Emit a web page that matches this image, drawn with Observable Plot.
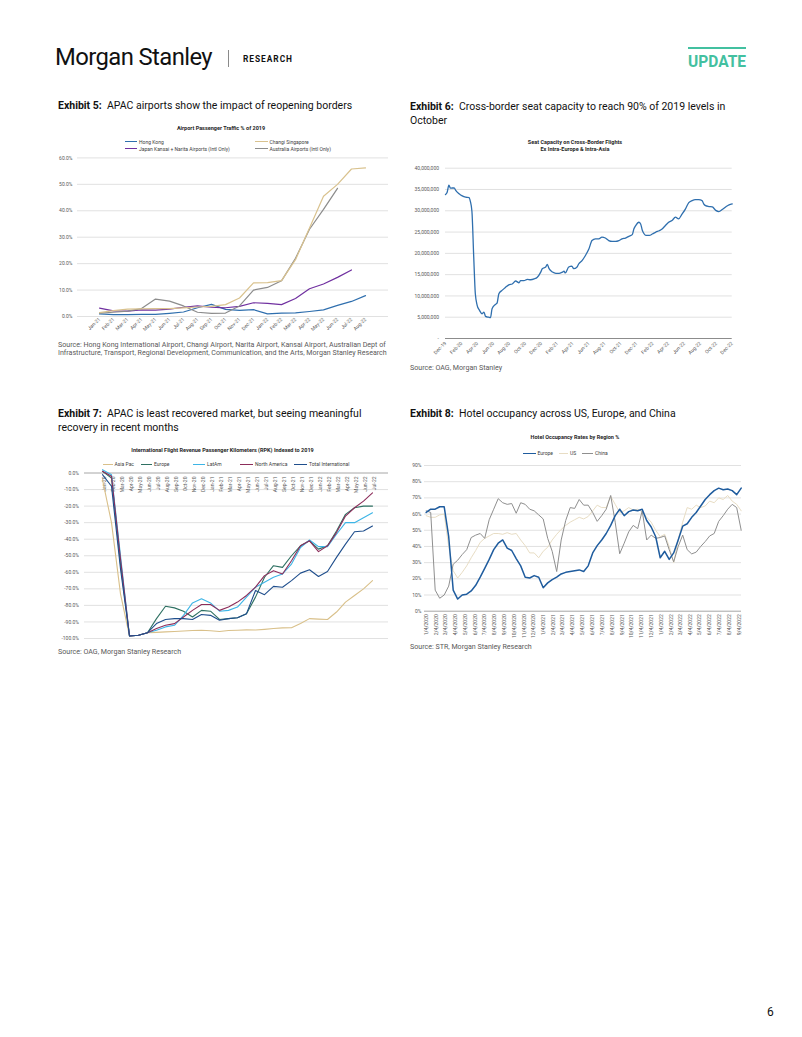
<!DOCTYPE html>
<html><head><meta charset="utf-8">
<script src="https://cdn.jsdelivr.net/npm/d3@7"></script>
<script src="https://cdn.jsdelivr.net/npm/@observablehq/plot@0.6"></script>
<style>
body{margin:0;background:#fff;width:802px;height:1037px;position:relative;overflow:hidden;font-family:Roboto,"Open Sans",sans-serif;}
.abs{position:absolute;white-space:nowrap;}
.ex{font-size:10.5px;color:#111;line-height:14px;}
.ex b{font-weight:700;}
.src{font-size:7.1px;color:#595959;line-height:8.5px;}
.ct{font-size:5.5px;font-weight:700;color:#262626;text-align:center;line-height:7.5px;transform:translateX(-50%);}
.lg{font-size:5px;color:#404040;line-height:6px;display:flex;align-items:center;}
.sw{display:inline-block;height:0;border-top:1.2px solid;margin-right:2px;}
.chart{position:absolute;}
</style></head><body>
<div id="root"></div>
<script>
// ---------------- DATA ----------------
// Exhibit 5
const months5 = ["Jan-21","Feb-21","Mar-21","Apr-21","May-21","Jun-21","Jul-21","Aug-21","Sep-21","Oct-21","Nov-21","Dec-21","Jan-22","Feb-22","Mar-22","Apr-22","May-22","Jun-22","Jul-22","Aug-22"];
const hongKong = [1.0,0.7,0.7,0.8,0.8,1.2,1.7,3.3,4.6,2.7,2.3,2.6,1.0,1.3,1.4,1.9,2.5,4.2,5.7,7.9];
const changiSingapore = [1.5,2.2,2.8,2.9,3.0,3.0,3.3,3.6,3.8,4.5,7.0,12.7,12.8,13.6,21.5,33.5,45.5,50.0,55.8,56.2];
const japanKansaiNarita = [3.2,2.1,2.0,2.5,2.4,2.8,3.5,4.0,3.5,3.3,3.8,5.2,5.0,4.5,6.8,10.5,12.3,14.8,17.6,null];
const australiaAirports = [1.3,1.6,2.0,3.0,6.6,5.8,4.0,1.6,1.2,1.3,4.0,10.0,11.0,13.5,22.0,33.0,40.5,48.5,null,null];
const names5 = ["Hong Kong","Japan Kansai + Narita Airports (Intl Only)","Australia Airports (Intl Only)","Changi Singapore"];
const colors5 = ["#2f6fae","#7030a0","#8c8c8c","#d9c28e"];
const yTicks5 = [0,10,20,30,40,50,60];

// Exhibit 6 (seats in millions)
const dates6 = ["2019-12-01","2019-12-07","2019-12-14","2019-12-20","2020-01-03","2020-01-09","2020-01-22","2020-02-03","2020-02-16","2020-02-29","2020-03-05","2020-03-11","2020-03-18","2020-03-24","2020-03-31","2020-04-09","2020-04-19","2020-04-26","2020-05-02","2020-05-14","2020-05-21","2020-05-27","2020-06-09","2020-06-15","2020-06-22","2020-07-04","2020-07-17","2020-07-30","2020-08-12","2020-08-25","2020-09-07","2020-09-13","2020-09-26","2020-10-09","2020-10-21","2020-11-04","2020-11-16","2020-11-29","2020-12-05","2020-12-18","2020-12-24","2020-12-31","2021-01-13","2021-01-26","2021-02-07","2021-02-20","2021-02-26","2021-03-03","2021-03-16","2021-03-28","2021-04-04","2021-04-17","2021-04-23","2021-05-06","2021-05-19","2021-06-01","2021-06-13","2021-06-26","2021-07-09","2021-07-21","2021-08-03","2021-08-16","2021-08-29","2021-09-11","2021-09-24","2021-10-06","2021-10-19","2021-11-01","2021-11-14","2021-11-20","2021-11-27","2021-12-09","2021-12-16","2021-12-22","2021-12-29","2022-01-05","2022-01-18","2022-01-31","2022-02-12","2022-02-25","2022-03-08","2022-03-20","2022-04-02","2022-04-15","2022-04-28","2022-05-10","2022-05-23","2022-06-05","2022-06-18","2022-07-01","2022-07-13","2022-07-26","2022-08-08","2022-08-14","2022-08-21","2022-09-03","2022-09-16","2022-09-29","2022-10-11","2022-10-24","2022-11-06","2022-11-19","2022-12-01"];
const seats6 = [33.8,34.3,36.0,35.3,35.4,34.8,34.0,33.5,33.2,33.1,32.2,29.9,19.0,10.5,7.8,6.6,5.8,6.2,5.2,5.0,4.9,7.0,8.0,8.3,10.5,11.3,12.0,12.6,12.8,13.5,13.1,13.6,13.6,13.9,13.8,14.0,14.4,15.6,16.4,16.8,17.4,16.4,15.6,15.3,15.3,15.6,15.8,15.4,16.8,17.0,16.4,16.8,17.5,18.3,19.5,21.0,23.0,23.4,23.4,23.8,23.6,23.0,22.8,22.8,23.0,23.4,23.6,24.0,24.4,25.7,26.5,27.3,26.9,25.5,24.6,24.2,24.2,24.6,25.0,25.3,25.7,26.5,27.3,27.7,28.5,28.1,29.2,30.4,31.9,32.4,32.6,32.6,32.4,31.6,31.2,31.0,30.9,30.1,29.8,30.3,30.9,31.4,31.6];
const tickLabels6 = ["Dec-19","Feb-20","Apr-20","Jun-20","Aug-20","Oct-20","Dec-20","Feb-21","Apr-21","Jun-21","Aug-21","Oct-21","Dec-21","Feb-22","Apr-22","Jun-22","Aug-22","Oct-22","Dec-22"];
const yTicks6 = [0,5e6,10e6,15e6,20e6,25e6,30e6,35e6,40e6];

// Exhibit 7
const months7 = ["Jan-20","Feb-20","Mar-20","Apr-20","May-20","Jun-20","Jul-20","Aug-20","Sep-20","Oct-20","Nov-20","Dec-20","Jan-21","Feb-21","Mar-21","Apr-21","May-21","Jun-21","Jul-21","Aug-21","Sep-21","Oct-21","Nov-21","Dec-21","Jan-22","Feb-22","Mar-22","Apr-22","May-22","Jun-22","Jul-22"];
const asiaPac = [-4,-30,-73,-98.5,-98,-96.5,-96.3,-96,-95.8,-95.5,-95.2,-95,-95.3,-95.8,-95.2,-95,-94.8,-94.9,-94.5,-94,-93.6,-93.5,-91,-88,-88.3,-88.5,-84,-78,-74,-70,-65];
const europe7 = [1,-3,-55,-98.5,-98,-96.5,-88,-80.5,-81.5,-83.5,-87,-83,-83.5,-88.5,-88,-87.5,-85,-75,-63,-56,-57,-50,-44,-41,-46,-44,-35,-25,-21,-20,-20];
const latAm = [2,-1,-50,-98.5,-98,-96.5,-95,-93,-92,-86,-78.5,-76,-78.5,-83.5,-83,-81,-75,-69,-66,-63,-61,-55,-45,-40.5,-44.5,-44.5,-37,-30,-30,-27,-24];
const northAmerica = [1,-2,-52,-98.5,-98,-96.5,-94,-92,-91,-87,-83,-79.5,-79.5,-83,-81,-78,-74,-69,-62,-59,-61,-53,-44,-41,-47.5,-44,-36,-26,-21,-17,-12];
const totalInternational = [-1,-8,-58,-98.5,-98,-96.5,-91,-88.5,-88,-88,-88.5,-85.5,-86,-89,-88,-87.5,-85,-71,-73.5,-68.5,-69,-65,-60.5,-58.5,-62.5,-59.5,-51,-43,-35.5,-35,-32];
const names7 = ["Asia Pac","Europe","LatAm","North America","Total International"];
const colors7 = ["#d9c08a","#2e7062","#3db5e6","#8c2d5a","#1f4e8c"];
const yTicks7 = [-100,-90,-80,-70,-60,-50,-40,-30,-20,-10,0];

// Exhibit 8 (bi-weekly from 1/4/2020)
const start8 = "2020-01-04";
const europe8 = [61,63,63,64.5,64.5,46,13,7.5,10,10.5,12.5,16,21,26.5,32,38,42,44,39,37.5,32.5,28,21,20.5,22,21,14.5,17.5,19.5,21,23,24,24.5,25,25.5,24.5,28,36,40.5,44,48,53,59,63,59,61.5,62.5,62,63,56,52,46,33,37,32,36,44,52.5,54,58,61,65,69,72,74.5,76,75,75.5,74.5,72,76];
const us8 = [59,58,58,59.5,60,40,25,20.5,24,28,33,37.5,42.5,45,46.5,48,48,47.5,48.5,47.5,48,44,40.5,36,36,33,37,39.5,44,47.5,50.5,53,55,56.5,58,57,58.5,62,65.5,64,64,71,66,61,62,64,62.5,63,61.5,58,55,50,46,47.5,40,30,44,55,64,63,65.5,64,65,68,67,70,69,71.5,68,66,62];
const china8 = [62,61,13,8,10,15.5,29,31.5,35,38,45.5,47,48,45,56.5,63,69.5,67,66,66.5,60.5,67,66,63,62,59.5,57,45,37,24.5,44,56,64,63.5,69,65.5,65.5,61,55.5,59,63,71.5,55,35.5,42,49,53,51,62,44,47,45,45.5,46.5,38,30.5,40,47,38,35.4,36.5,40,43,46.5,48,55.5,59,63,66,64,50];
const tickLabels8 = ["1/4/2020","2/4/2020","3/4/2020","4/4/2020","5/4/2020","6/4/2020","7/4/2020","8/4/2020","9/4/2020","10/4/2020","11/4/2020","12/4/2020","1/4/2021","2/4/2021","3/4/2021","4/4/2021","5/4/2021","6/4/2021","7/4/2021","8/4/2021","9/4/2021","10/4/2021","11/4/2021","12/4/2021","1/4/2022","2/4/2022","3/4/2022","4/4/2022","5/4/2022","6/4/2022","7/4/2022","8/4/2022","9/4/2022"];
const names8 = ["US","China","Europe"];
const colors8 = ["#e8ddc4","#8f8f8f","#1f5c9e"];
const yTicks8 = [0,10,20,30,40,50,60,70,80,90];

// ---------------- LAYOUT HELPERS ----------------
const root = document.getElementById("root");
function addDiv(cls, left, top, html, extra) {
  const d = document.createElement("div");
  d.className = "abs " + cls;
  d.style.left = left + "px"; d.style.top = top + "px";
  d.innerHTML = html;
  if (extra) Object.assign(d.style, extra);
  root.appendChild(d);
  return d;
}
function legendItem(left, cy, color, label, w) {
  addDiv("lg", left, cy - 3, `<span class="sw" style="width:${w}px;border-color:${color}"></span>${label}`);
}
function place(svg, left, top) {
  const wrap = document.createElement("div");
  wrap.className = "chart";
  wrap.style.left = left + "px"; wrap.style.top = top + "px";
  wrap.appendChild(svg);
  root.appendChild(wrap);
}
function fitWidth(el, w) {
  const r = el.getBoundingClientRect().width;
  el.style.transformOrigin = "left center";
  el.style.transform = `scaleX(${w / r})`;
}
const baseStyle = {fontFamily: "Roboto, sans-serif", fontSize: "5px", color: "#595959", background: "none", overflow: "visible"};

// ---------------- HEADER ----------------
const logo = addDiv("", 55, 42, "Morgan Stanley", {fontSize: "24px", fontWeight: "400", color: "#111", lineHeight: "30px", letterSpacing: "-0.6px"});
fitWidth(logo, 157);
addDiv("", 228, 50, "", {width: "1px", height: "17px", background: "#8a8a8a"});
const research = addDiv("", 243, 53, "RESEARCH", {fontSize: "8.5px", fontWeight: "700", color: "#111", lineHeight: "12px", letterSpacing: "1px"});
fitWidth(research, 50);
addDiv("", 688, 47, "", {width: "58px", height: "2px", background: "#43c0a0"});
const upd = addDiv("", 688, 52, "UPDATE", {fontSize: "16px", fontWeight: "700", color: "#43c0a0", lineHeight: "20px"});
fitWidth(upd, 58);
addDiv("", 767, 1004, "6", {fontSize: "12px", color: "#111", lineHeight: "16px"});

// ---------------- EXHIBIT 5 ----------------
addDiv("ex", 58, 99, "<b>Exhibit 5:</b>&nbsp; APAC airports show the impact of reopening borders");
addDiv("ct", 221, 124.5, "Airport Passenger Traffic % of 2019");
legendItem(125, 141.5, colors5[0], names5[0], 12);
legendItem(255, 141.5, colors5[3], names5[3], 12.5);
legendItem(125, 148.5, colors5[1], names5[1], 12);
legendItem(255, 148.5, colors5[2], names5[2], 12.5);
addDiv("src", 58, 340.8, "Source: Hong Kong International Airport, Changi Airport, Narita Airport, Kansai Airport, Australian Dept of<br>Infrastructure, Transport, Regional Development, Communication, and the Arts, Morgan Stanley Research");

const series5 = {"Hong Kong": hongKong, "Changi Singapore": changiSingapore, "Japan Kansai + Narita Airports (Intl Only)": japanKansaiNarita, "Australia Airports (Intl Only)": australiaAirports};
const data5 = names5.flatMap(name => months5.map((m, i) => ({month: m, series: name, value: series5[name][i]}))).filter(d => d.value != null);
place(Plot.plot({
  width: 340, height: 190, marginLeft: 22, marginRight: 7, marginTop: 7.4, marginBottom: 24,
  style: baseStyle,
  x: {type: "point", domain: months5, range: [28.3, 325], tickRotate: -45, tickSize: 0, tickPadding: 2, label: null},
  y: {domain: [0, 60], ticks: yTicks5, tickFormat: d => d.toFixed(1) + "%", tickSize: 0, tickPadding: 5, label: null},
  color: {domain: names5, range: colors5},
  marks: [
    Plot.ruleY(yTicks5, {stroke: "#d9d9d9", strokeWidth: 0.8}),
    Plot.line(data5, {x: "month", y: "value", z: "series", stroke: "series", strokeWidth: 1.2})
  ]
}), 55, 150);

// ---------------- EXHIBIT 6 ----------------
addDiv("ex", 410, 99.5, "<b>Exhibit 6:</b>&nbsp; Cross-border seat capacity to reach 90% of 2019 levels in<br>October");
addDiv("ct", 575, 138.5, "Seat Capacity on Cross-Border Flights<br>Ex Intra-Europe &amp; Intra-Asia");
addDiv("src", 410, 364, "Source: OAG, Morgan Stanley");
const parse6 = d3.utcParse("%b-%y");
const data6 = dates6.map((d, i) => ({date: new Date(d), seats: seats6[i] * 1e6}));
place(Plot.plot({
  width: 360, height: 215, marginLeft: 40, marginRight: 33.3, marginTop: 7.7, marginBottom: 37,
  style: baseStyle,
  x: {type: "utc", domain: [new Date("2019-12-01"), new Date("2022-12-01")], ticks: tickLabels6.map(parse6), tickFormat: d3.utcFormat("%b-%y"), tickRotate: -45, tickSize: 0, tickPadding: 4, label: null},
  y: {domain: [0, 40e6], ticks: yTicks6, tickFormat: d => d === 0 ? "-" : d3.format(",")(d), tickSize: 0, tickPadding: 6.5, label: null},
  marks: [
    Plot.ruleY(yTicks6.filter(d => d > 0), {stroke: "#d9d9d9", strokeWidth: 0.8}),
    Plot.ruleY([0], {stroke: "#8c8c8c", strokeWidth: 1.2}),
    Plot.line(data6, {x: "date", y: "seats", stroke: "#2f6fae", strokeWidth: 1.3, curve: "monotone-x"})
  ]
}), 405, 160);

// ---------------- EXHIBIT 7 ----------------
addDiv("ex", 58, 407.3, "<b>Exhibit 7:</b>&nbsp; APAC is least recovered market, but seeing meaningful<br>recovery in recent months");
addDiv("ct", 222.5, 447, "International Flight Revenue Passenger Kilometers (RPK) Indexed to 2019");
legendItem(103, 464.3, colors7[0], names7[0], 9.5);
legendItem(141, 464.3, colors7[1], names7[1], 11);
legendItem(193, 464.3, colors7[2], names7[2], 12);
legendItem(240, 464.3, colors7[3], names7[3], 13);
legendItem(294, 464.3, colors7[4], names7[4], 13);
addDiv("src", 58, 647.5, "Source: OAG, Morgan Stanley Research");
const series7 = {"Asia Pac": asiaPac, "Europe": europe7, "LatAm": latAm, "North America": northAmerica, "Total International": totalInternational};
const data7 = names7.flatMap(name => months7.map((m, i) => ({month: m, series: name, value: series7[name][i]})));
place(Plot.plot({
  width: 340, height: 180, marginLeft: 29, marginRight: 7, marginTop: 7.5, marginBottom: 7,
  style: baseStyle,
  x: {type: "point", domain: months7, range: [36, 327], axis: null},
  y: {domain: [-100, 0], ticks: yTicks7, tickFormat: d => d.toFixed(1) + "%", tickSize: 0, tickPadding: 5.5, label: null},
  color: {domain: names7, range: colors7},
  marks: [
    Plot.ruleY(yTicks7.filter(d => d < 0), {stroke: "#d9d9d9", strokeWidth: 0.8}),
    Plot.ruleY([0], {stroke: "#a6a6a6", strokeWidth: 1}),
    Plot.text(months7, {x: d => d, frameAnchor: "top", rotate: -90, textAnchor: "end", dy: 3.5, fontSize: 5, fill: "#595959"}),
    Plot.line(data7, {x: "month", y: "value", z: "series", stroke: "series", strokeWidth: 1.1})
  ]
}), 55, 465);

// ---------------- EXHIBIT 8 ----------------
addDiv("ex", 410, 407, "<b>Exhibit 8:</b>&nbsp; Hotel occupancy across US, Europe, and China");
addDiv("ct", 575, 434, "Hotel Occupancy Rates by Region %");
legendItem(523, 453.3, colors8[2], "Europe", 12.5);
legendItem(559, 453.3, colors8[0], "US", 9);
legendItem(582, 453.3, colors8[1], "China", 11);
addDiv("src", 410, 643, "Source: STR, Morgan Stanley Research");
const series8 = {"Europe": europe8, "US": us8, "China": china8};
const startDate8 = new Date(start8);
const data8 = names8.flatMap(name => series8[name].map((v, i) => ({date: d3.utcDay.offset(startDate8, 14 * i), series: name, value: v})));
const parse8 = d3.utcParse("%m/%d/%Y");
place(Plot.plot({
  width: 360, height: 190, marginLeft: 19, marginRight: 24, marginTop: 7, marginBottom: 37.3,
  style: baseStyle,
  x: {type: "utc", domain: [startDate8, d3.utcDay.offset(startDate8, 980)], range: [20.7, 335.7], ticks: tickLabels8.map(parse8), tickFormat: d => `${d.getUTCMonth() + 1}/${d.getUTCDate()}/${d.getUTCFullYear()}`, tickRotate: -90, tickSize: 0, tickPadding: 3, label: null},
  y: {domain: [0, 90], ticks: yTicks8, tickFormat: d => d + "%", tickSize: 0, tickPadding: 3, label: null},
  color: {domain: names8, range: colors8},
  marks: [
    Plot.ruleY(yTicks8.filter(d => d > 0), {stroke: "#d9d9d9", strokeWidth: 0.8}),
    Plot.ruleY([0], {stroke: "#a6a6a6", strokeWidth: 1}),
    Plot.line(data8, {x: "date", y: "value", z: "series", stroke: "series", strokeWidth: d => d.series === "Europe" ? 1.5 : 1})
  ]
}), 405, 458);
</script>
</body></html>
